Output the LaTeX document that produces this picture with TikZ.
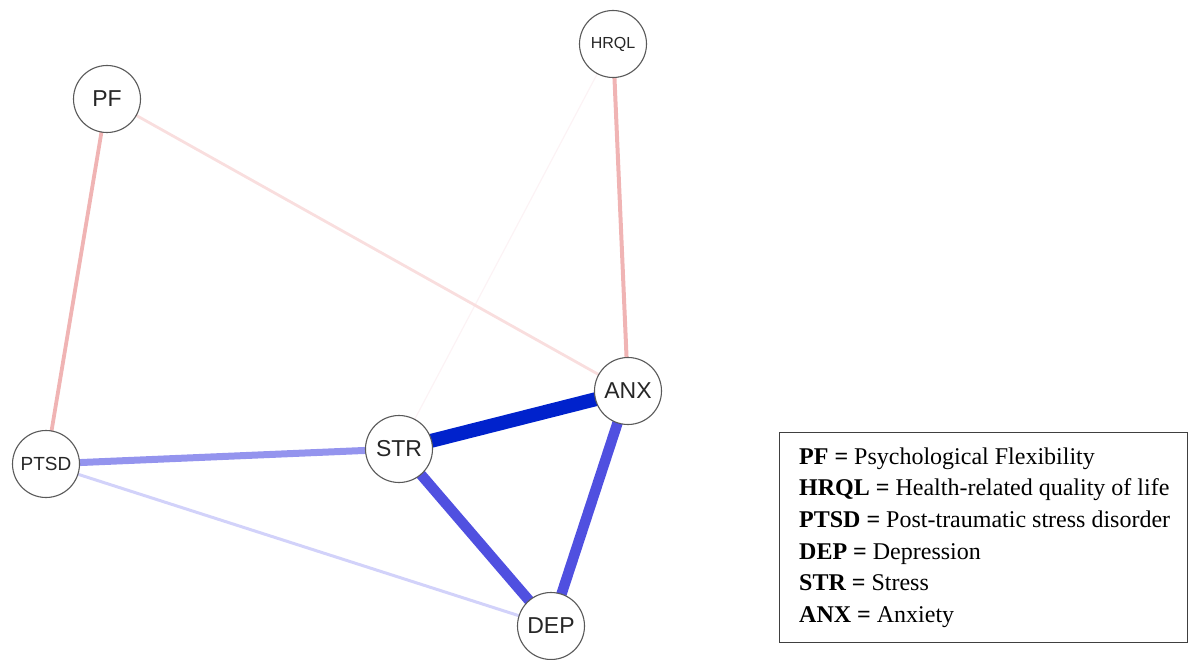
\documentclass[tikz,border=0pt]{standalone}
\usepackage{fontspec}
\setmainfont{Liberation Serif}
\newfontfamily\nodefont{Liberation Sans}
\begin{document}
\begin{tikzpicture}[x=1pt,y=-1pt,
  var/.style={circle,draw=black!65,line width=1.1pt,fill=white,minimum size=67pt,inner sep=0pt,font=\nodefont\fontsize{23}{26}\selectfont,text=black!85},
  smallvar/.style={var,font=\nodefont\fontsize{16}{18}\selectfont},
  midvar/.style={var,font=\nodefont\fontsize{19}{21}\selectfont},
  edge/.style={line cap=butt}]
\useasboundingbox (0,0) rectangle (1188,660);
\definecolor{pinkA}{HTML}{F0B4B4}
\definecolor{pinkB}{HTML}{F9DEDE}
\definecolor{pinkC}{HTML}{FCF3F5}
\definecolor{blueA}{HTML}{0022CC}
\definecolor{blueB}{HTML}{5050E0}
\definecolor{blueC}{HTML}{9494EE}
\definecolor{blueD}{HTML}{D2D2FA}
% node positions
\coordinate (pPF) at (107,99);
\coordinate (pHRQL) at (613,44);
\coordinate (pANX) at (628,391);
\coordinate (pSTR) at (399,449);
\coordinate (pPTSD) at (46,464);
\coordinate (pDEP) at (551,626);
% edges
\draw[edge,pinkC,line width=1.2pt] (pHRQL) -- (pSTR);
\draw[edge,pinkB,line width=2.8pt] (pPF) -- (pANX);
\draw[edge,pinkA,line width=3.8pt] (pPF) -- (pPTSD);
\draw[edge,pinkA,line width=4pt] (pHRQL) -- (pANX);
\draw[edge,blueD,line width=3pt] (pPTSD) -- (pDEP);
\draw[edge,blueC,line width=7pt] (pPTSD) -- (pSTR);
\draw[edge,blueB,line width=10.5pt] (pSTR) -- (pDEP);
\draw[edge,blueB,line width=10.5pt] (pANX) -- (pDEP);
\draw[edge,blueA,line width=14pt] (pSTR) -- (pANX);
% nodes
\node[var] (PF) at (pPF) {PF};
\node[smallvar] (HRQL) at (pHRQL) {HRQL};
\node[var] (ANX) at (pANX) {ANX};
\node[var] (STR) at (pSTR) {STR};
\node[midvar] (PTSD) at (pPTSD) {PTSD};
\node[var] (DEP) at (pDEP) {DEP};
% legend
\draw[black!75,line width=1pt] (779,432) rectangle (1187.5,642);
\node[anchor=west,align=left,font=\fontsize{24}{31.6}\selectfont,inner sep=0pt] (legend) at (799,537.5) {%
\textbf{PF =} Psychological Flexibility\\
\textbf{HRQL =} Health-related quality of life\\
\textbf{PTSD =} Post-traumatic stress disorder\\
\textbf{DEP =} Depression\\
\textbf{STR =} Stress\\
\textbf{ANX =} Anxiety};
\end{tikzpicture}
\end{document}
